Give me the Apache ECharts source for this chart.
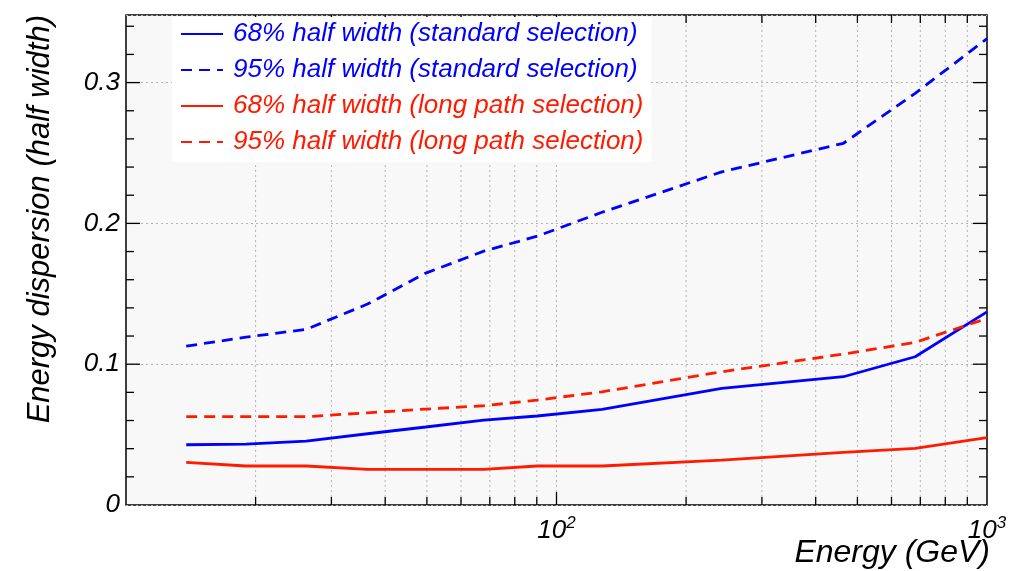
<!DOCTYPE html>
<html>
<head>
<meta charset="utf-8">
<script src="https://cdn.jsdelivr.net/npm/echarts@6/dist/echarts.min.js"></script>
<style>
html,body{margin:0;padding:0;background:#fff;}
#chart{width:1024px;height:571px;}
</style>
</head>
<body>
<div id="chart"></div>
<script>
// ---- data ----
const energies = [13.8, 19.0, 26.2, 36.4, 49.7, 67.8, 90.2, 127.6, 242, 464, 681, 1000];
const std68 = [0.0428, 0.0433, 0.0454, 0.0506, 0.0554, 0.0603, 0.0632, 0.0679, 0.0828, 0.0911, 0.1053, 0.1372];
const std95 = [0.1128, 0.1192, 0.1247, 0.1427, 0.1647, 0.1803, 0.1909, 0.2079, 0.2366, 0.2569, 0.2924, 0.3312];
const long68 = [0.0303, 0.0277, 0.0277, 0.0253, 0.0253, 0.0253, 0.0277, 0.0277, 0.0319, 0.0374, 0.0402, 0.0478];
const long95 = [0.0627, 0.0627, 0.0627, 0.0655, 0.0681, 0.0705, 0.0745, 0.0804, 0.0946, 0.1072, 0.1155, 0.1325];
const seriesNames = [
  '68% half width (standard selection)',
  '95% half width (standard selection)',
  '68% half width (long path selection)',
  '95% half width (long path selection)'
];
const xMinorTicks = [20,30,40,50,60,70,80,90,200,300,400,500,600,700,800,900];
const xMajorTicks = [100];
const xLabelExponents = {100: '2', 1000: '3'};
const yMajorTicks = [0.1, 0.2, 0.3];
const yMinorTicks = [0.02,0.04,0.06,0.08,0.12,0.14,0.16,0.18,0.22,0.24,0.26,0.28,0.32,0.34];
const yLabels = {0: '0', 1: '0.1', 2: '0.2', 3: '0.3'};
const xTitle = 'Energy (GeV)';
const yTitle = 'Energy dispersion (half width)';

const BLUE = '#0000ff';
const RED = '#ff1a00';
const FONT = 'Liberation Sans';

const chart = echarts.init(document.getElementById('chart'), null, {renderer: 'canvas'});

function mk(name, data, color, dashed) {
  return {
    name: name,
    type: 'line',
    data: energies.map((e, i) => [e, data[i]]),
    symbol: 'none',
    showSymbol: false,
    z: 3,
    lineStyle: {color: color, width: 2.8, type: dashed ? [11, 7] : 'solid'},
    itemStyle: {color: color}
  };
}

const xTickData = xMinorTicks.map(v => [v, 0]).concat(xMajorTicks.map(v => [v, 1]));
const yTickData = yMinorTicks.map(v => [10, v, 0]).concat(yMajorTicks.map(v => [10, v, 1]));

const option = {
  animation: false,
  backgroundColor: '#ffffff',
  grid: {
    left: 126, right: 37, top: 15, bottom: 66,
    containLabel: false,
    outerBoundsMode: 'none',
    show: true, backgroundColor: '#f8f8f8', borderColor: '#000', borderWidth: 1.5
  },
  legend: {
    orient: 'vertical',
    left: 172, top: 17,
    backgroundColor: '#ffffff',
    padding: [4, 8, 7, 8],
    itemWidth: 42, itemHeight: 14, itemGap: 10,
    z: 5,
    itemStyle: {opacity: 0},
    textStyle: {fontFamily: FONT, fontStyle: 'italic', fontSize: 26, padding: [0, 0, 0, 5]},
    data: [
      {name: seriesNames[0], textStyle: {color: BLUE}},
      {name: seriesNames[1], textStyle: {color: BLUE}},
      {name: seriesNames[2], textStyle: {color: RED}},
      {name: seriesNames[3], textStyle: {color: RED}}
    ]
  },
  xAxis: {
    type: 'log', logBase: 10, min: 10, max: 1000,
    axisLine: {show: false},
    axisTick: {show: false},
    splitLine: {show: false},
    name: xTitle,
    nameLocation: 'end',
    nameGap: 3,
    nameMoveOverlap: false,
    nameTextStyle: {fontFamily: FONT, fontStyle: 'italic', fontSize: 32, color: '#000',
      align: 'right', verticalAlign: 'top', padding: [32, 0, 0, 0]},
    axisLabel: {
      margin: 10,
      showMinLabel: true, showMaxLabel: true,
      formatter: function (v) {
        const k = Math.round(v);
        if (!xLabelExponents[k]) return '';
        return '{b|10}{s|' + xLabelExponents[k] + '}';
      },
      rich: {
        b: {fontFamily: FONT, fontStyle: 'italic', fontSize: 26, color: '#000'},
        s: {fontFamily: FONT, fontStyle: 'italic', fontSize: 17, color: '#000', padding: [0, 0, 14, 0]}
      }
    }
  },
  yAxis: {
    type: 'value', min: 0, max: 0.348, interval: 0.1,
    axisLine: {show: false},
    axisTick: {show: false},
    splitLine: {show: true, lineStyle: {color: '#b4b4b4', width: 1, type: [2, 3]}},
    name: yTitle,
    nameLocation: 'end',
    nameRotate: 90,
    nameGap: 0,
    nameMoveOverlap: false,
    nameTextStyle: {fontFamily: FONT, fontStyle: 'italic', fontSize: 31, color: '#000',
      align: 'right', verticalAlign: 'bottom', padding: [0, 0, 70, 0]},
    axisLabel: {
      margin: 6,
      fontFamily: FONT, fontStyle: 'italic', fontSize: 26, color: '#000',
      formatter: function (v) {
        const k = Math.round(v * 10);
        if (Math.abs(v * 10 - k) > 1e-6) return '';
        return yLabels[k] || '';
      }
    }
  },
  series: [
    {
      type: 'custom',
      name: 'xticks',
      z: 1,
      clip: false,
      silent: true,
      data: xTickData,
      renderItem: function (params, api) {
        const v = api.value(0);
        const major = api.value(1);
        const x = api.coord([v, 0])[0];
        const cs = params.coordSys;
        const top = cs.y, bottom = cs.y + cs.height;
        const L = major ? 13 : 8;
        return {type: 'group', children: [
          {type: 'line', shape: {x1: x, y1: top, x2: x, y2: bottom}, style: {stroke: '#b4b4b4', lineWidth: 1, lineDash: [2, 3]}},
          {type: 'line', shape: {x1: x, y1: bottom, x2: x, y2: bottom - L}, style: {stroke: '#000', lineWidth: 1.3}, z2: 10},
          {type: 'line', shape: {x1: x, y1: top, x2: x, y2: top + L}, style: {stroke: '#000', lineWidth: 1.3}, z2: 10}
        ]};
      }
    },
    {
      type: 'custom',
      name: 'yticks',
      z: 6,
      clip: false,
      silent: true,
      data: yTickData,
      renderItem: function (params, api) {
        const v = api.value(1);
        const major = api.value(2);
        const y = api.coord([10, v])[1];
        const cs = params.coordSys;
        const left = cs.x, right = cs.x + cs.width;
        const L = major ? 14 : 8;
        return {type: 'group', children: [
          {type: 'line', shape: {x1: left, y1: y, x2: left + L, y2: y}, style: {stroke: '#000', lineWidth: 1.3}},
          {type: 'line', shape: {x1: right, y1: y, x2: right - L, y2: y}, style: {stroke: '#000', lineWidth: 1.3}}
        ]};
      }
    },
    mk(seriesNames[0], std68, BLUE, false),
    mk(seriesNames[1], std95, BLUE, true),
    mk(seriesNames[2], long68, RED, false),
    mk(seriesNames[3], long95, RED, true)
  ]
};
chart.setOption(option);
</script>
</body>
</html>
